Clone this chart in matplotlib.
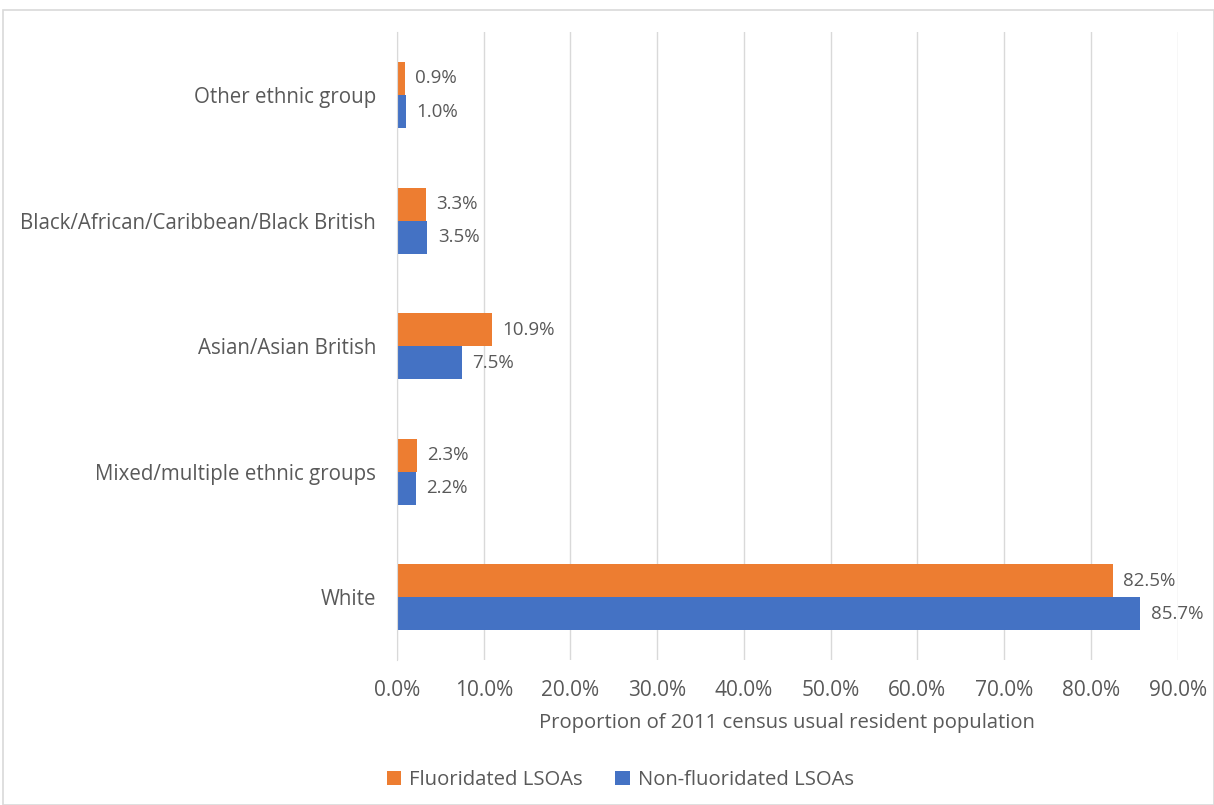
import matplotlib
matplotlib.use("Agg")
import matplotlib.pyplot as plt
from matplotlib.patches import Rectangle
import numpy as np

categories = ["White", "Mixed/multiple ethnic groups", "Asian/Asian British",
              "Black/African/Caribbean/Black British", "Other ethnic group"]
fluoridated = [82.5, 2.3, 10.9, 3.3, 0.9]
non_fluoridated = [85.7, 2.2, 7.5, 3.5, 1.0]
xticks = [0, 10, 20, 30, 40, 50, 60, 70, 80, 90]

plt.rcParams['font.family'] = ['Open Sans', 'DejaVu Sans']
grey = '#595959'

fig = plt.figure(figsize=(12.14, 8.05), dpi=100)
ax = fig.add_axes([0.327, 0.180, 0.643, 0.780])

y = np.arange(len(categories))
h = 0.263
ax.barh(y + h/2, fluoridated, height=h, color='#ED7D31', label='Fluoridated LSOAs')
ax.barh(y - h/2, non_fluoridated, height=h, color='#4472C4', label='Non-fluoridated LSOAs')

for yi, v in zip(y, fluoridated):
    ax.text(v + 1.2, yi + h/2, f"{v:.1f}%", va='center', ha='left', fontsize=13.5, color=grey)
for yi, v in zip(y, non_fluoridated):
    ax.text(v + 1.2, yi - h/2, f"{v:.1f}%", va='center', ha='left', fontsize=13.5, color=grey)

ax.set_xlim(0, 90)
ax.set_ylim(-0.5, 4.5)
ax.set_xticks(xticks)
ax.set_xticklabels([f"{t:.1f}%" for t in xticks], fontsize=15, color=grey)
ax.set_yticks(y)
ax.set_yticklabels(categories, fontsize=14.8, color=grey)
ax.tick_params(axis='x', length=0, pad=14)
ax.tick_params(axis='y', length=0, pad=15)
ax.grid(axis='x', color='#D9D9D9', linewidth=1)
ax.set_axisbelow(True)
for s in ['top', 'right', 'bottom']:
    ax.spines[s].set_visible(False)
ax.spines['left'].set_color('#D9D9D9')
ax.set_xlabel("Proportion of 2011 census usual resident population", fontsize=14.6, color=grey, labelpad=9)

leg = fig.legend(loc='center', bbox_to_anchor=(0.511, 0.031), ncol=2, frameon=False,
                 fontsize=14.6, handlelength=0.7, handleheight=0.7, handletextpad=0.4,
                 columnspacing=1.6)
for t in leg.get_texts():
    t.set_color(grey)

fig.patches.append(Rectangle((3/1214, 0), 1 - 3/1214, 1 - 10/805, transform=fig.transFigure,
                             fill=False, edgecolor='#D9D9D9', linewidth=1.2))

fig.savefig("out.png", dpi=100)
